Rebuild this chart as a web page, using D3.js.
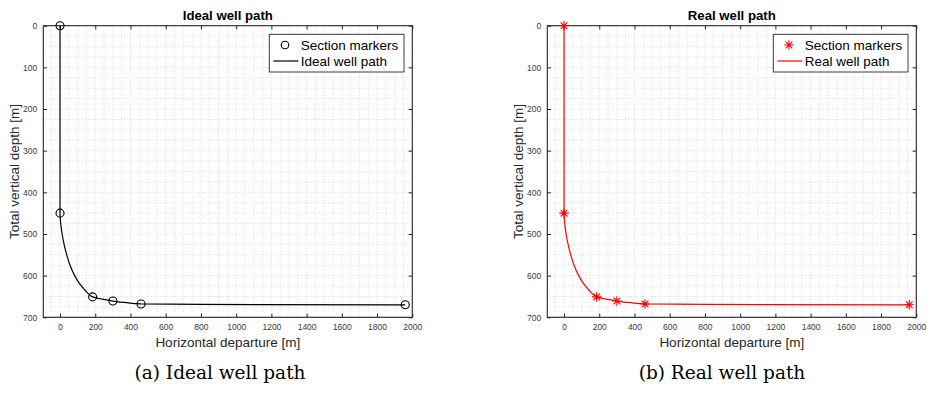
<!DOCTYPE html>
<html><head><meta charset="utf-8">
<script src="https://cdn.jsdelivr.net/npm/d3@7"></script>
<style>body{margin:0;background:#fff;}svg{display:block;}</style>
</head><body>
<svg id="c" width="927" height="401"></svg>
<script>
// ---- data ----
const xTicks = [0,200,400,600,800,1000,1200,1400,1600,1800,2000];
const yTicks = [0,100,200,300,400,500,600,700];
const xDomain = [-95, 2000];
const yDomain = [0, 700];
const markerX = [0, 0, 185, 300, 460, 1960];
const markerY = [0, 450, 651, 661, 668, 670];
const pathX = [0, 0, 4, 12, 23, 38, 57, 83, 112, 142, 165, 186, 235, 300, 380, 460, 800, 1960];
const pathY = [0, 450, 475, 500, 525, 550, 575, 600, 620, 635, 645, 651, 656, 661, 665, 668, 669.2, 670];
const panelTitles = ["Ideal well path", "Real well path"];
const legendMarkerLabels = ["Section markers", "Section markers"];
const legendLineLabels = ["Ideal well path", "Real well path"];
const captions = ["(a) Ideal well path", "(b) Real well path"];
const seriesColors = ["#000000", "#ff0000"];
const markerKinds = ["circle", "asterisk"];
const xLabel = "Horizontal departure [m]";
const yLabel = "Total vertical depth [m]";

// ---- layout ----
const panels = [
  {left: 43.3, captionX: 220},
  {left: 547.3, captionX: 722}
];
const plotTop = 25.7, W = 369, H = 291.6;
const svg = d3.select("#c");
const axisCol = "#262626";
const fmt = d3.format("d");

const asterisk8 = {
  draw(ctx, size) {
    const r = Math.sqrt(size) / 2;
    const d = r * Math.SQRT1_2;
    ctx.moveTo(-r, 0); ctx.lineTo(r, 0);
    ctx.moveTo(0, -r); ctx.lineTo(0, r);
    ctx.moveTo(-d, -d); ctx.lineTo(d, d);
    ctx.moveTo(-d, d); ctx.lineTo(d, -d);
  }
};

panels.forEach((p, i) => {
  const g = svg.append("g").attr("transform", `translate(${p.left},${plotTop})`);
  const x = d3.scaleLinear().domain(xDomain).range([0, W]);
  const y = d3.scaleLinear().domain(yDomain).range([0, H]);
  const col = seriesColors[i];

  // minor/major grid (dotted)
  const gx = d3.range(-50, 2001, 50);
  const gy = d3.range(0, 701, 25);
  const grid = g.append("g").attr("stroke", "#c4c4c4").attr("stroke-width", 0.7)
    .attr("stroke-dasharray", "1,2");
  grid.selectAll("line.vx").data(gx).join("line").attr("class", "vx")
    .attr("x1", d => x(d)).attr("x2", d => x(d)).attr("y1", 0).attr("y2", H);
  grid.selectAll("line.hy").data(gy).join("line").attr("class", "hy")
    .attr("x1", 0).attr("x2", W).attr("y1", d => y(d)).attr("y2", d => y(d));

  // axes with inward ticks
  const tl = 3.7;
  g.append("g").attr("transform", `translate(0,${H})`)
    .call(d3.axisBottom(x).tickValues(xTicks).tickFormat(fmt).tickSizeInner(-tl).tickSizeOuter(0).tickPadding(7))
    .call(a => { a.select(".domain").remove();
      a.selectAll("line").attr("stroke", axisCol);
      a.selectAll("text").attr("fill", "#3a3a3a").attr("font-size", 8.5).attr("font-family", "Liberation Sans, Arial, sans-serif"); });
  g.append("g")
    .call(d3.axisTop(x).tickValues(xTicks).tickSizeInner(-tl).tickSizeOuter(0).tickFormat(""))
    .call(a => { a.select(".domain").remove(); a.selectAll("line").attr("stroke", axisCol); });
  g.append("g")
    .call(d3.axisLeft(y).tickValues(yTicks).tickFormat(fmt).tickSizeInner(-tl).tickSizeOuter(0).tickPadding(6))
    .call(a => { a.select(".domain").remove();
      a.selectAll("line").attr("stroke", axisCol);
      a.selectAll("text").attr("fill", "#3a3a3a").attr("font-size", 8.5).attr("font-family", "Liberation Sans, Arial, sans-serif"); });
  g.append("g").attr("transform", `translate(${W},0)`)
    .call(d3.axisRight(y).tickValues(yTicks).tickSizeInner(-tl).tickSizeOuter(0).tickFormat(""))
    .call(a => { a.select(".domain").remove(); a.selectAll("line").attr("stroke", axisCol); });
  g.append("rect").attr("x", 0).attr("y", 0).attr("width", W).attr("height", H)
    .attr("fill", "none").attr("stroke", axisCol).attr("stroke-width", 1.1);

  // path
  const pts = pathX.map((v, k) => [v, pathY[k]]);
  const line = d3.line().x(d => x(d[0])).y(d => y(d[1])).curve(d3.curveMonotoneY);
  g.append("path").attr("d", line(pts)).attr("fill", "none").attr("stroke", col).attr("stroke-width", 1.2);

  // markers
  const mk = markerX.map((v, k) => [v, markerY[k]]);
  if (markerKinds[i] === "circle") {
    g.selectAll("circle.m").data(mk).join("circle").attr("class", "m")
      .attr("cx", d => x(d[0])).attr("cy", d => y(d[1])).attr("r", 4)
      .attr("fill", "none").attr("stroke", col).attr("stroke-width", 1.1);
  } else {
    const sym = d3.symbol().type(asterisk8).size(90);
    g.selectAll("path.m").data(mk).join("path").attr("class", "m")
      .attr("transform", d => `translate(${x(d[0])},${y(d[1])})`)
      .attr("d", sym()).attr("fill", "none").attr("stroke", col).attr("stroke-width", 1.1);
  }

  // title
  svg.append("text").attr("x", p.left + W / 2).attr("y", 20.3).attr("text-anchor", "middle")
    .attr("font-family", "Liberation Sans, Arial, sans-serif").attr("font-weight", "bold")
    .attr("font-size", 13.2).attr("fill", "#000").text(panelTitles[i]);
  // axis labels
  svg.append("text").attr("x", p.left + W / 2).attr("y", 346.5).attr("text-anchor", "middle")
    .attr("font-family", "Liberation Sans, Arial, sans-serif").attr("font-size", 13.5)
    .attr("fill", axisCol).text(xLabel);
  svg.append("text").attr("transform", `translate(${p.left - 24.5},${plotTop + H / 2}) rotate(-90)`)
    .attr("text-anchor", "middle")
    .attr("font-family", "Liberation Sans, Arial, sans-serif").attr("font-size", 13.5)
    .attr("fill", axisCol).text(yLabel);

  // legend
  const lw = 134.7, lh = 37.7;
  const lx = W - 8.3 - lw, ly = 8.6;
  const lg = g.append("g").attr("transform", `translate(${lx},${ly})`);
  lg.append("rect").attr("width", lw).attr("height", lh).attr("fill", "#fff")
    .attr("stroke", axisCol).attr("stroke-width", 0.9);
  if (markerKinds[i] === "circle") {
    lg.append("circle").attr("cx", 15.7).attr("cy", 10.7).attr("r", 3.8)
      .attr("fill", "none").attr("stroke", col).attr("stroke-width", 1.1);
  } else {
    lg.append("path").attr("transform", "translate(15.7,10.7)")
      .attr("d", d3.symbol().type(asterisk8).size(90)()).attr("fill", "none")
      .attr("stroke", col).attr("stroke-width", 1.1);
  }
  lg.append("line").attr("x1", 4).attr("x2", 29).attr("y1", 26.7).attr("y2", 26.7)
    .attr("stroke", col).attr("stroke-width", 1.2);
  lg.append("text").attr("x", 31.4).attr("y", 15.5).attr("font-size", 13.5)
    .attr("font-family", "Liberation Sans, Arial, sans-serif").attr("fill", "#000").text(legendMarkerLabels[i]);
  lg.append("text").attr("x", 31.4).attr("y", 31.5).attr("font-size", 13.5)
    .attr("font-family", "Liberation Sans, Arial, sans-serif").attr("fill", "#000").text(legendLineLabels[i]);

  // caption
  svg.append("text").attr("x", p.captionX).attr("y", 379).attr("text-anchor", "middle")
    .attr("font-family", "DejaVu Serif, serif").attr("font-size", 18.5)
    .attr("fill", "#000").text(captions[i]);
});
</script>
</body></html>
